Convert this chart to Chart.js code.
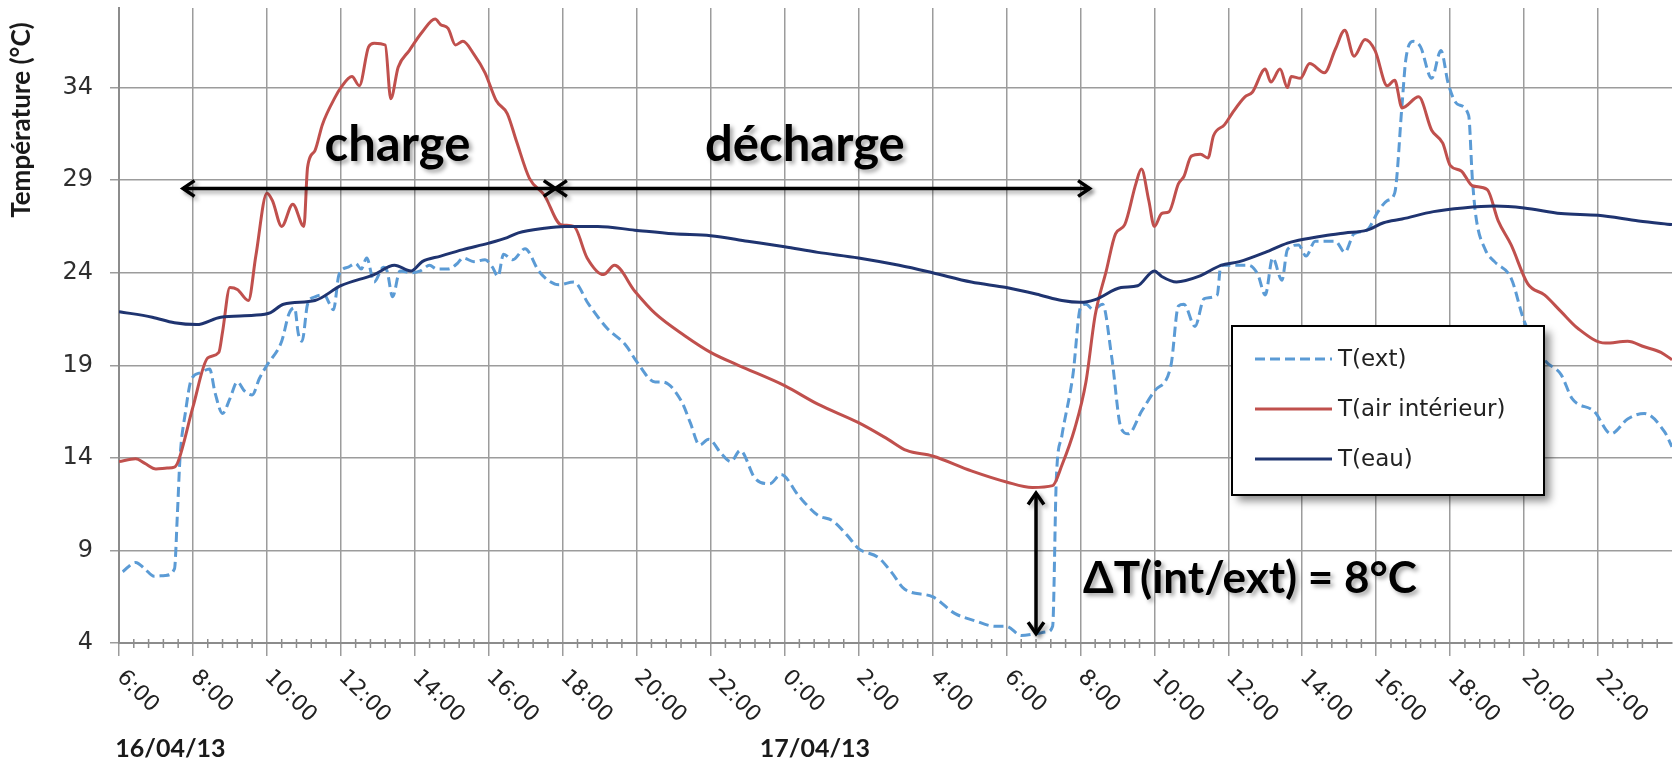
<!DOCTYPE html>
<html>
<head>
<meta charset="utf-8">
<script src="https://cdn.jsdelivr.net/npm/chart.js@4.4.0/dist/chart.umd.min.js"></script>
<style>
  html, body { margin: 0; padding: 0; background: #fff; }
  canvas { display: block; }
</style>
</head>
<body>
<canvas id="plot" width="1678" height="765"></canvas>
<script>
// heures depuis le 16/04 0:00 (24 = 17/04 0:00)
let extHours = [6.1, 6.45, 6.7, 6.95, 7.25, 7.5, 7.58, 7.65, 7.8, 7.95, 8.2, 8.45, 8.6, 8.8, 9.0, 9.2, 9.4, 9.6, 9.8, 10.0,
  10.4, 10.6, 10.75, 10.85, 10.95, 11.1, 11.3, 11.55, 11.7, 11.8, 11.95, 12.2, 12.4, 12.55, 12.7, 12.9, 13.15, 13.25, 13.4, 13.6,
  13.9, 14.15, 14.4, 14.6, 14.9, 15.15, 15.3, 15.6, 15.9, 16.1, 16.25, 16.4, 16.65, 16.98, 17.35, 17.6, 17.9, 18.3, 18.7, 19.2,
  19.7, 20.0, 20.5, 20.7, 21.2, 21.45, 21.7, 21.95, 22.3, 22.55, 22.8, 23.2, 23.6, 23.9, 24.4, 24.9, 25.3, 25.7, 26.0, 26.55,
  26.9, 27.25, 28.0, 28.6, 29.15, 29.7, 30.0, 30.4, 30.8, 31.1, 31.25, 31.35, 31.5, 31.8, 32.0, 32.15, 32.35, 32.6, 32.85, 33.1,
  33.3, 33.65, 34.0, 34.45, 34.65, 34.8, 35.1, 35.35, 35.7, 35.8, 36.2, 36.55, 36.8, 37.0, 37.2, 37.45, 37.6, 37.9, 38.1, 38.35,
  38.9, 39.15, 39.4, 39.75, 40.05, 40.3, 40.5, 40.7, 40.8, 41.0, 41.2, 41.5, 41.75, 41.95, 42.2, 42.5, 42.6, 42.7, 42.95, 43.2,
  43.65, 44.0, 44.55, 45.0, 45.3, 45.9, 46.35, 46.8, 47.25, 47.8, 48.0];
let extValues = [7.85, 8.35, 8.0, 7.6, 7.65, 8.0, 11.0, 14.0, 16.5, 18.2, 18.6, 18.8, 17.5, 16.4, 17.2, 18.1, 17.6, 17.4, 18.3, 19.0,
  20.3, 21.8, 22.1, 20.7, 20.3, 22.3, 22.7, 22.8, 22.3, 22.0, 23.9, 24.3, 24.5, 24.2, 24.8, 23.5, 24.3, 24.1, 22.7, 24.1,
  24.0, 24.1, 24.4, 24.2, 24.2, 24.5, 24.8, 24.6, 24.7, 24.3, 23.8, 25.0, 24.7, 25.3, 24.1, 23.6, 23.35, 23.5, 22.3, 21.0,
  20.1, 19.2, 18.1, 18.1, 17.1, 15.9, 14.7, 15.0, 14.2, 13.8, 14.4, 12.9, 12.6, 13.1, 11.9, 10.9, 10.6, 9.8, 9.1, 8.6,
  7.8, 6.9, 6.5, 5.6, 5.2, 4.9, 4.9, 4.4, 4.5, 4.6, 4.9, 12.9, 15.2, 18.5, 22.1, 22.3, 22.0, 22.3, 19.4, 15.6,
  15.3, 16.5, 17.6, 19.0, 22.2, 22.3, 21.1, 22.6, 22.8, 24.4, 24.4, 24.4, 23.9, 22.8, 24.8, 23.6, 25.25, 25.5, 24.9, 25.7,
  25.7, 25.1, 26.1, 26.3, 27.3, 27.9, 28.3, 33.1, 35.5, 36.5, 36.2, 34.5, 36.0, 34.2, 33.1, 32.5, 29.1, 27.0, 25.25, 24.6,
  23.7, 21.4, 19.3, 18.5, 17.2, 16.5, 15.3, 16.1, 16.4, 15.4, 14.6];

let airHours = [6.0, 6.45, 6.7, 7.0, 7.3, 7.5, 7.6, 8.0, 8.4, 8.7, 8.8, 9.0, 9.2, 9.5, 9.7, 10.0, 10.15, 10.4, 10.7, 11.0,
  11.1, 11.3, 11.5, 11.85, 12.0, 12.3, 12.5, 12.75, 12.9, 13.2, 13.35, 13.55, 13.85, 14.2, 14.55, 14.7, 14.9, 15.1, 15.3, 15.6,
  15.9, 16.2, 16.5, 16.75, 17.1, 17.5, 17.95, 18.3, 18.66, 19.1, 19.4, 19.95, 20.5, 21.3, 22.0, 22.75, 24.0, 24.9, 26.0, 26.8,
  27.3, 28.0, 29.05, 30.0, 30.7, 31.25, 31.5, 31.85, 32.15, 32.4, 32.7, 32.95, 33.2, 33.5, 33.65, 33.85, 34.0, 34.2, 34.4, 34.65,
  34.8, 35.0, 35.25, 35.45, 35.6, 35.9, 36.1, 36.45, 36.65, 37.0, 37.15, 37.4, 37.6, 37.7, 37.95, 38.2, 38.6, 38.9, 39.15, 39.4,
  39.7, 39.97, 40.3, 40.5, 40.7, 41.15, 41.5, 41.8, 42.0, 42.3, 42.6, 43.0, 43.3, 43.65, 44.1, 44.55, 45.0, 45.45, 46.2, 46.8,
  47.25, 47.7, 48.0];
let airValues = [13.8, 13.95, 13.7, 13.4, 13.45, 13.5, 13.8, 16.75, 19.4, 19.7, 20.8, 23.2, 23.1, 22.5, 24.9, 28.3, 27.9, 26.5, 27.7, 26.5,
  29.7, 30.6, 32.0, 33.5, 34.0, 34.6, 34.1, 36.2, 36.4, 36.3, 33.4, 35.1, 36.0, 37.0, 37.7, 37.4, 37.2, 36.3, 36.5, 35.8,
  34.8, 33.3, 32.6, 31.1, 29.1, 28.2, 26.6, 26.5, 24.8, 23.9, 24.4, 23.0, 21.8, 20.6, 19.7, 19.0, 17.9, 16.9, 15.9, 15.0,
  14.4, 14.1, 13.3, 12.7, 12.4, 12.5, 13.6, 15.6, 18.1, 21.7, 24.1, 26.1, 26.6, 28.8, 29.6, 27.9, 26.5, 27.2, 27.3, 28.8,
  29.2, 30.3, 30.4, 30.2, 31.4, 32.0, 32.6, 33.5, 33.75, 35.0, 34.3, 35.0, 34.0, 34.6, 34.5, 35.3, 34.8, 36.1, 37.1, 35.7,
  36.6, 36.0, 34.1, 34.4, 32.9, 33.5, 31.7, 31.0, 29.8, 29.5, 28.7, 28.5, 26.8, 25.5, 23.4, 22.8, 21.9, 21.0, 20.2, 20.3,
  20.0, 19.7, 19.3];

let eauHours = [6.0, 6.9, 7.5, 8.1, 8.75, 9.65, 10.1, 10.45, 11.3, 12.0, 12.9, 13.45, 13.9, 14.2, 14.7, 15.3, 16.0, 16.5, 16.8, 17.5,
  18.05, 18.95, 19.95, 21.0, 22.0, 23.0, 24.0, 24.9, 26.0, 27.1, 28.0, 29.05, 30.0, 30.9, 31.5, 32.0, 32.4, 33.1, 33.55, 34.0,
  34.2, 34.6, 35.2, 35.8, 36.3, 37.0, 37.6, 37.9, 38.6, 39.15, 39.75, 40.2, 40.7, 41.55, 42.35, 43.2, 44.0, 45.0, 46.0, 47.1, 48.0];
let eauValues = [21.9, 21.6, 21.3, 21.2, 21.6, 21.7, 21.85, 22.3, 22.5, 23.3, 23.9, 24.4, 24.1, 24.6, 24.9, 25.25, 25.6, 25.9, 26.15, 26.4,
  26.5, 26.5, 26.3, 26.1, 26.0, 25.7, 25.4, 25.1, 24.8, 24.4, 24.0, 23.5, 23.2, 22.8, 22.5, 22.4, 22.55, 23.2, 23.3, 24.1,
  23.8, 23.5, 23.8, 24.4, 24.6, 25.1, 25.6, 25.75, 26.0, 26.15, 26.3, 26.7, 26.9, 27.3, 27.5, 27.6, 27.5, 27.2, 27.1, 26.8, 26.6];

let xTickHours = [6, 8, 10, 12, 14, 16, 18, 20, 22, 24, 26, 28, 30, 32, 34, 36, 38, 40, 42, 44, 46];
let xTickLabels = ["6:00", "8:00", "10:00", "12:00", "14:00", "16:00", "18:00", "20:00", "22:00", "0:00", "2:00",
  "4:00", "6:00", "8:00", "10:00", "12:00", "14:00", "16:00", "18:00", "20:00", "22:00"];
let yTicks = [4, 9, 14, 19, 24, 29, 34];
let dateLabels = ["16/04/13", "17/04/13"];
let dateHours = [5.9, 23.33];

let seriesNames = ["T(ext)", "T(air intérieur)", "T(eau)"];
let seriesColors = ["#5b9bd5", "#c0504d", "#1f3470"];

let toPoints = (hours, values) => hours.map((h, i) => ({ x: h, y: values[i] }));

// ombre douce des annotations
let shadowOn = (ctx) => {
  ctx.shadowColor = "rgba(0,0,0,0.35)";
  ctx.shadowBlur = 4;
  ctx.shadowOffsetX = 3;
  ctx.shadowOffsetY = 3;
};

let chevron = (ctx, x, y, dir) => {
  let len = 14, a = 0.6;
  ctx.beginPath();
  ctx.moveTo(x + dir * len * Math.cos(a), y - len * Math.sin(a));
  ctx.lineTo(x, y);
  ctx.lineTo(x + dir * len * Math.cos(a), y + len * Math.sin(a));
  ctx.stroke();
};

let chevronV = (ctx, x, y, dir) => {
  let len = 14, a = 0.6;
  ctx.beginPath();
  ctx.moveTo(x - len * Math.sin(a), y + dir * len * Math.cos(a));
  ctx.lineTo(x, y);
  ctx.lineTo(x + len * Math.sin(a), y + dir * len * Math.cos(a));
  ctx.stroke();
};

let decor = {
  id: "decor",
  afterDraw(chart) {
    let ctx = chart.ctx;
    let xs = chart.scales.x, ys = chart.scales.y;
    let bottom = chart.chartArea.bottom;

    // petites graduations
    ctx.save();
    ctx.strokeStyle = "#8c8c8c";
    ctx.lineWidth = 1.5;
    for (let i = 0; i <= 105; i++) {
      if (i % 5 === 0) continue;
      let px = xs.getPixelForValue(6 + i * 0.4);
      ctx.beginPath();
      ctx.moveTo(px, bottom - 4);
      ctx.lineTo(px, bottom + 5);
      ctx.stroke();
    }
    ctx.restore();

    // étiquettes de l'axe x, inclinées
    ctx.save();
    ctx.font = "22px 'DejaVu Sans'";
    ctx.fillStyle = "#222";
    ctx.textAlign = "left";
    ctx.textBaseline = "middle";
    xTickHours.forEach((h, i) => {
      let px = xs.getPixelForValue(h);
      ctx.save();
      ctx.translate(px + 1, bottom + 31);
      ctx.rotate(Math.PI / 4);
      ctx.fillText(xTickLabels[i], 0, 0);
      ctx.restore();
    });
    ctx.font = "bold 25px Lato";
    ctx.fillStyle = "#1a1a1a";
    dateLabels.forEach((d, i) => {
      ctx.fillText(d, xs.getPixelForValue(dateHours[i]), 749);
    });
    ctx.restore();

    // titre de l'axe y
    ctx.save();
    ctx.font = "bold 26px Lato";
    ctx.fillStyle = "#1a1a1a";
    ctx.textAlign = "center";
    ctx.textBaseline = "middle";
    ctx.translate(22, 120);
    ctx.rotate(-Math.PI / 2);
    ctx.fillText("Température (°C)", 0, 0);
    ctx.restore();

    // flèches charge / décharge
    ctx.save();
    shadowOn(ctx);
    ctx.strokeStyle = "#000";
    ctx.fillStyle = "#000";
    ctx.lineWidth = 3.5;
    let ya = ys.getPixelForValue(28.55);
    let x1 = xs.getPixelForValue(7.73), x2 = xs.getPixelForValue(17.8), x3 = xs.getPixelForValue(32.25);
    ctx.beginPath();
    ctx.moveTo(x1, ya);
    ctx.lineTo(x3, ya);
    ctx.stroke();
    chevron(ctx, x1, ya, 1);
    chevron(ctx, x2, ya, -1);
    chevron(ctx, x2, ya, 1);
    chevron(ctx, x3, ya, -1);

    let xd = xs.getPixelForValue(30.8);
    let yt = ys.getPixelForValue(12.1), yb = ys.getPixelForValue(4.5);
    ctx.beginPath();
    ctx.moveTo(xd, yt);
    ctx.lineTo(xd, yb);
    ctx.stroke();
    chevronV(ctx, xd, yt, 1);
    chevronV(ctx, xd, yb, -1);

    ctx.font = "bold 49px Lato";
    ctx.textBaseline = "alphabetic";
    ctx.textAlign = "center";
    let yb2 = ys.getPixelForValue(30.05);
    ctx.fillText("charge", xs.getPixelForValue(13.53), yb2);
    ctx.fillText("décharge", xs.getPixelForValue(24.55), yb2);
    ctx.font = "bold 44px Lato";
    ctx.textAlign = "left";
    ctx.fillText("ΔT(int/ext) = 8°C", xs.getPixelForValue(32.07), ys.getPixelForValue(6.7));
    ctx.restore();

    // légende
    ctx.save();
    let lx = 1232, ly = 326, lw = 312, lh = 169;
    ctx.shadowColor = "rgba(0,0,0,0.45)";
    ctx.shadowBlur = 8;
    ctx.shadowOffsetX = 6;
    ctx.shadowOffsetY = 6;
    ctx.fillStyle = "#fff";
    ctx.fillRect(lx, ly, lw, lh);
    ctx.shadowColor = "transparent";
    ctx.strokeStyle = "#000";
    ctx.lineWidth = 2;
    ctx.strokeRect(lx, ly, lw, lh);
    ctx.font = "23px 'DejaVu Sans'";
    ctx.textAlign = "left";
    ctx.textBaseline = "middle";
    let rows = [359, 409, 459];
    seriesNames.forEach((name, i) => {
      ctx.strokeStyle = seriesColors[i];
      ctx.lineWidth = 3;
      ctx.setLineDash(i === 0 ? [10, 5] : []);
      ctx.beginPath();
      ctx.moveTo(1255, rows[i]);
      ctx.lineTo(1332, rows[i]);
      ctx.stroke();
      ctx.setLineDash([]);
      ctx.fillStyle = "#222";
      ctx.fillText(name, 1338, rows[i] + 1);
    });
    ctx.restore();
  },
};

let plotRef = document.getElementById("plot");

let config = {
  type: "line",
  data: {
    datasets: [
      {
        label: seriesNames[0],
        data: toPoints(extHours, extValues),
        borderColor: seriesColors[0],
        borderDash: [10, 5],
        borderWidth: 3,
        order: 3,
      },
      {
        label: seriesNames[1],
        data: toPoints(airHours, airValues),
        borderColor: seriesColors[1],
        borderWidth: 3,
        order: 2,
      },
      {
        label: seriesNames[2],
        data: toPoints(eauHours, eauValues),
        borderColor: seriesColors[2],
        borderWidth: 3,
        order: 1,
      },
    ],
  },
  options: {
    responsive: false,
    animation: false,
    elements: {
      point: { radius: 0 },
      line: { cubicInterpolationMode: "monotone" },
    },
    plugins: { legend: { display: false }, tooltip: { enabled: false } },
    layout: { padding: { top: 8, right: 6, left: 0, bottom: 0 } },
    scales: {
      x: {
        type: "linear",
        min: 6,
        max: 48,
        afterBuildTicks: (s) => { s.ticks = xTickHours.map((v) => ({ value: v })); },
        afterFit: (s) => { s.height = 122; s.paddingLeft = 0; s.paddingRight = 0; },
        ticks: { display: false },
        grid: { color: "#9c9c9c", lineWidth: 1.5, tickLength: 13 },
        border: { color: "#8c8c8c", width: 2 },
      },
      y: {
        min: 4,
        max: 38.3,
        afterBuildTicks: (s) => { s.ticks = yTicks.map((v) => ({ value: v })); },
        afterFit: (s) => { s.width = 119; s.paddingTop = 0; s.paddingBottom = 0; },
        ticks: {
          font: { family: "DejaVu Sans", size: 24 },
          color: "#2e2e2e",
          padding: 17,
        },
        grid: { color: "#9c9c9c", lineWidth: 1.5, tickLength: 9 },
        border: { color: "#8c8c8c", width: 2 },
      },
    },
  },
  plugins: [decor],
};

let chart1 = new Chart(plotRef, config);
</script>
</body>
</html>
